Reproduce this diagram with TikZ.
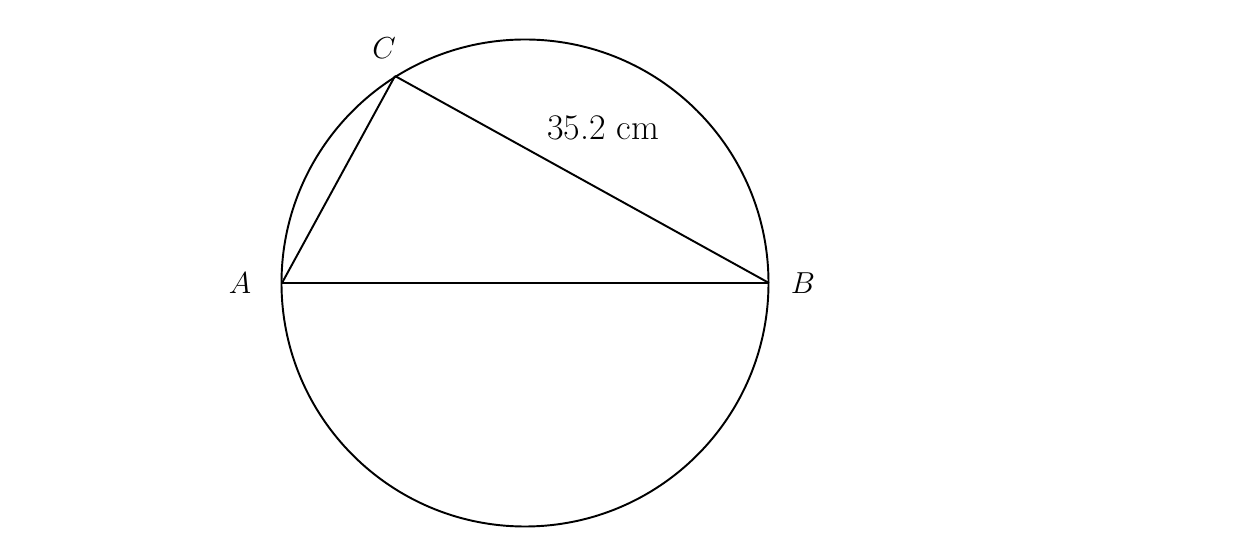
\documentclass[tikz,border=0pt]{standalone}
\usepackage{tikz}
\usetikzlibrary{graphs}

\begin{document}
\begin{tikzpicture}[line width=1.1pt,
    lbl/.style={font=\fontsize{17}{20}\selectfont}]
      \useasboundingbox (0,0) rectangle (24.76,-11.04);

      \coordinate (O) at (10.5,-5.66);
      \coordinate (A) at (5.64,-5.66);
      \coordinate (B) at (15.38,-5.66);
      \coordinate (C) at (7.9,-1.52);

      \draw (O) circle (4.87);

      \node[lbl] (a) at (4.8,-5.66) {$A$};
      \node[lbl] (b) at (16.06,-5.66) {$B$};
      \node[lbl] (c) at (7.68,-0.96) {$C$};
      \node[font=\fontsize{20.5}{24}\selectfont] (len) at (12.06,-2.56) {35.2 cm};

      \graph{
        (A) -- (B);
        (B) -- (C);
        (C) -- (A)
      };
    \end{tikzpicture}
\end{document}
